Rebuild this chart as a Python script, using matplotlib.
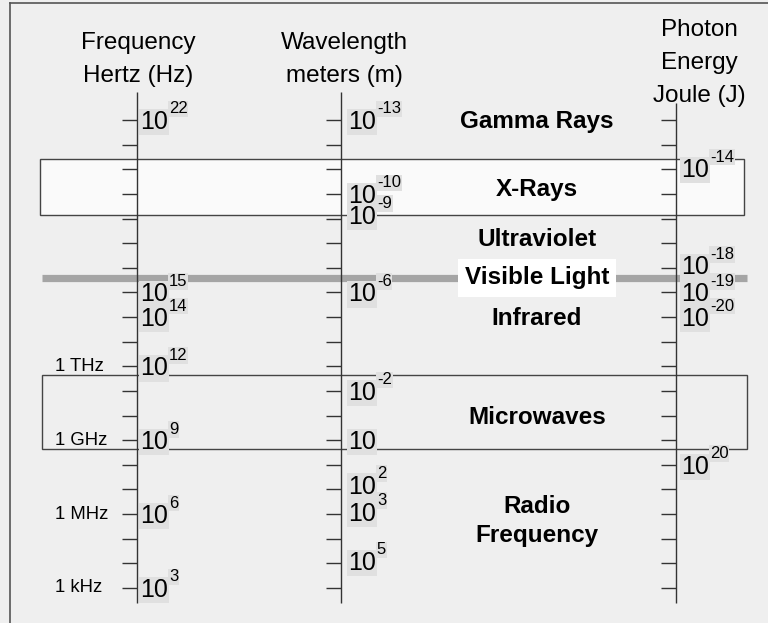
"""Electromagnetic spectrum chart: frequency, wavelength and photon energy scales."""

import matplotlib
matplotlib.use('Agg')
from matplotlib import pyplot
from matplotlib.patches import Rectangle
from matplotlib.lines import Line2D

pyplot.rcParams['font.family'] = ['Liberation Sans', 'DejaVu Sans']

# Every tick on the three scales is one decade of frequency (log10 of Hz).
tick_decades = [22, 21, 20, 19, 18, 17, 16, 15, 14, 13, 12, 11, 10, 9, 8, 7, 6, 5, 4, 3]

# Power-of-ten labels on each scale: exponent text and its place (log10 Hz).
freq_exponents = ['22', '15', '14', '12', '9', '6', '3']
freq_label_pos = [22, 15, 14, 12, 9, 6, 3]
wave_exponents = ['-13', '-10', '-9', '-6', '-2', '', '2', '3', '5']
wave_label_pos = [22, 19.0, 18.15, 15, 11, 9, 7.2, 6.1, 4.1]
energy_exponents = ['-14', '-18', '-19', '-20', '20']
energy_label_pos = [20.05, 16.1, 15.0, 14.0, 8.0]

# Named frequencies on the left of the frequency scale.
unit_names = ['1 THz', '1 GHz', '1 MHz', '1 kHz']
unit_pos = [12, 9, 6, 3]

# Regions of the spectrum and where their names sit.
band_names = ['Gamma Rays', 'X-Rays', 'Ultraviolet', 'Visible Light',
              'Infrared', 'Microwaves', 'Radio\nFrequency']
band_label_pos = [21.92, 19.16, 17.13, 15.59, 13.92, 9.94, 5.72]
xray_range = (18.14, 20.42)
microwave_range = (8.64, 11.65)
visible_at = 15.6

# Column layout (pixels across the figure).
x_freq, x_wave, x_energy = 137, 341, 676
x_bands = 537
tick_len = 15

bg = '#efefef'
label_bg = '#e0e0e0'
line_color = '#333333'

fig = pyplot.figure(figsize=(7.68, 6.23), dpi=100, facecolor=bg)
ax = fig.add_axes([0, 0, 1, 1])
ax.set_facecolor(bg)
ax.set_xlim(0, 768)
ax.set_ylim(1.577, 26.872)
ax.axis('off')

# Outer frame (only its left and top edges fall inside the picture).
fig.add_artist(Line2D([10 / 768, 10 / 768], [-0.1, 1 - 3 / 623],
                      color='#555555', lw=1.2, transform=fig.transFigure))
fig.add_artist(Line2D([10 / 768, 1.1], [1 - 3 / 623, 1 - 3 / 623],
                      color='#555555', lw=1.2, transform=fig.transFigure))

# X-ray and microwave boxes, visible light stripe.
ax.add_patch(Rectangle((40, xray_range[0]), 704, xray_range[1] - xray_range[0],
                       facecolor='#fafafa', edgecolor='#444444', lw=1, zorder=1))
ax.add_patch(Rectangle((42, microwave_range[0]), 705,
                       microwave_range[1] - microwave_range[0],
                       facecolor='none', edgecolor='#444444', lw=1, zorder=1))
ax.plot([42, 747], [visible_at, visible_at], color='#a5a5a5', lw=5.2,
        solid_capstyle='butt', zorder=2)

# The three scales.
ax.vlines([x_freq, x_wave], 2.39, 23.14, color=line_color, lw=1, zorder=3)
ax.vlines(x_energy, 2.39, 22.69, color=line_color, lw=1, zorder=3)
for x in (x_freq, x_wave, x_energy):
    ax.hlines(tick_decades, x - tick_len, x, color=line_color, lw=1, zorder=3)

box = dict(boxstyle='square,pad=0.05', facecolor=label_bg, edgecolor='none')


def power_label(x, y, exponent, dx):
    base = ax.annotate('10', xy=(x, y), xytext=(dx, -2),
                       textcoords='offset pixels', ha='left', va='center',
                       fontsize=18, bbox=box, zorder=5)
    if exponent:
        ax.annotate(exponent, xy=(1, 0.5), xycoords=base, xytext=(1, 13),
                    textcoords='offset pixels', ha='left', va='center',
                    fontsize=12, bbox=box, zorder=4)


for e, y in zip(freq_exponents, freq_label_pos):
    power_label(x_freq, y, e, 3)
for e, y in zip(wave_exponents, wave_label_pos):
    power_label(x_wave, y, e, 7)
for e, y in zip(energy_exponents, energy_label_pos):
    power_label(x_energy, y, e, 5)

for name, y in zip(unit_names, unit_pos):
    ax.text(55, y, name, ha='left', va='center', fontsize=13.3)

# Column headings.
ax.text(138, 24.46, 'Frequency\nHertz (Hz)', ha='center', va='center',
        fontsize=17.5, linespacing=1.6)
ax.text(344, 24.46, 'Wavelength\nmeters (m)', ha='center', va='center',
        fontsize=17.5, linespacing=1.6)
ax.text(699, 24.33, 'Photon\nEnergy\nJoule (J)', ha='center', va='center',
        fontsize=17.5, linespacing=1.65)

for name, y in zip(band_names, band_label_pos):
    kw = {}
    if name == 'Visible Light':
        kw['bbox'] = dict(boxstyle='square,pad=0.3', facecolor='white',
                          edgecolor='none')
    ax.text(x_bands, y, name, ha='center', va='center', fontsize=17.5,
            fontweight='bold', linespacing=1.3, zorder=6, **kw)

fig.savefig('out.png', dpi=100, facecolor=bg)
